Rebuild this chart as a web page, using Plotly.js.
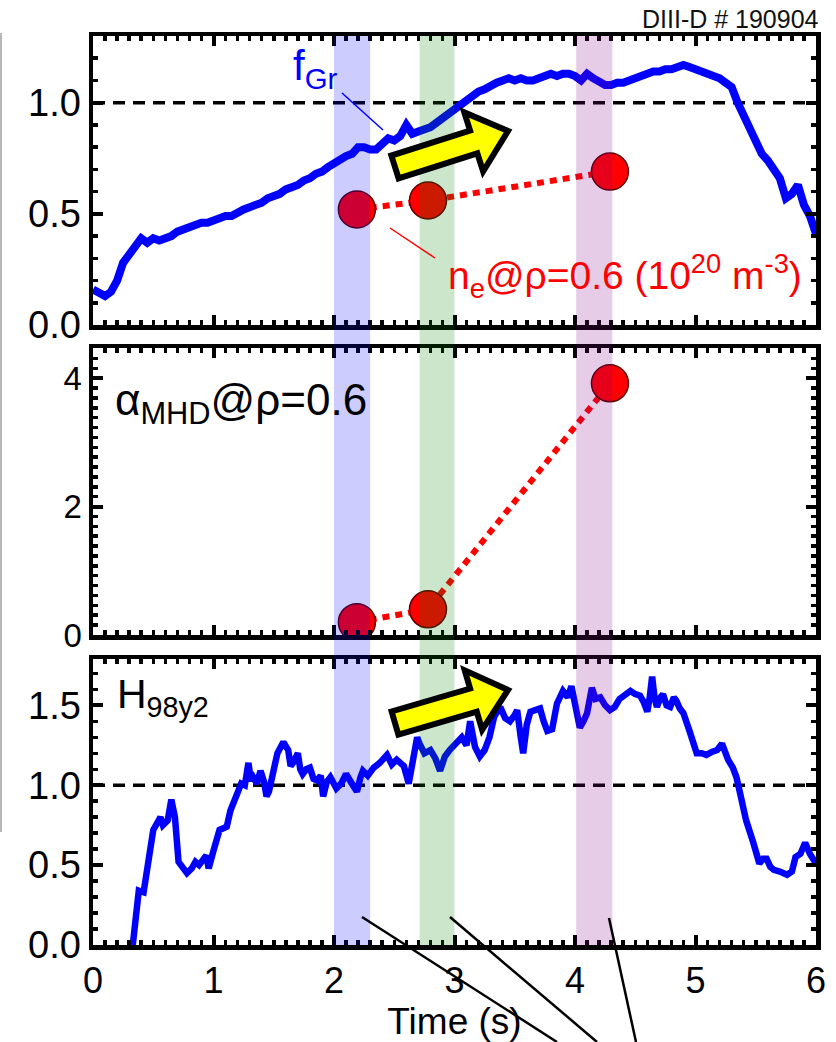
<!DOCTYPE html>
<html>
<head>
<meta charset="utf-8">
<script src="https://cdn.plot.ly/plotly-3.0.1.min.js"></script>
<style>html,body{margin:0;padding:0;background:#fff;}#chart{width:836px;height:1042px;}</style>
</head>
<body>
<div id="chart"></div>
<script>
// ---------- DATA ----------
const fgrTime = [0.00,0.05,0.10,0.15,0.20,0.25,0.30,0.35,0.40,0.45,
  0.50,0.55,0.60,0.65,0.70,0.75,0.80,0.85,0.90,0.95,
  1.00,1.05,1.10,1.15,1.20,1.25,1.30,1.35,1.40,1.45,
  1.50,1.55,1.60,1.65,1.70,1.75,1.80,1.85,1.90,1.95,
  2.00,2.05,2.10,2.15,2.20,2.25,2.30,2.35,2.40,2.45,
  2.50,2.55,2.60,2.65,2.70,2.75,2.80,2.85,2.90,2.95,
  3.00,3.05,3.10,3.15,3.20,3.25,3.30,3.35,3.40,3.45,
  3.50,3.55,3.60,3.65,3.70,3.75,3.80,3.85,3.90,3.95,
  4.00,4.05,4.10,4.15,4.20,4.25,4.30,4.35,4.40,4.45,
  4.50,4.55,4.60,4.65,4.70,4.75,4.80,4.85,4.90,4.95,
  5.00,5.05,5.10,5.15,5.20,5.25,5.30,5.35,5.40,5.45,
  5.50,5.55,5.60,5.65,5.70,5.75,5.80,5.85,5.90,5.95,6.00];
const fgrValue = [0.16,0.14,0.13,0.15,0.20,0.28,0.32,0.35,0.39,0.37,
  0.39,0.38,0.39,0.40,0.42,0.43,0.44,0.45,0.46,0.46,
  0.47,0.48,0.49,0.49,0.51,0.52,0.53,0.54,0.55,0.57,
  0.58,0.59,0.61,0.62,0.63,0.65,0.66,0.68,0.69,0.71,
  0.73,0.74,0.76,0.77,0.80,0.80,0.79,0.79,0.82,0.84,
  0.83,0.85,0.90,0.86,0.87,0.88,0.89,0.91,0.93,0.95,
  0.98,1.00,1.02,1.03,1.05,1.06,1.08,1.09,1.10,1.11,
  1.10,1.11,1.10,1.10,1.11,1.12,1.13,1.12,1.13,1.13,
  1.12,1.10,1.13,1.11,1.09,1.08,1.08,1.09,1.09,1.10,
  1.11,1.12,1.13,1.14,1.14,1.15,1.15,1.16,1.17,1.16,
  1.15,1.14,1.13,1.12,1.11,1.09,1.07,1.00,0.94,0.89,
  0.82,0.77,0.74,0.70,0.66,0.57,0.59,0.63,0.54,0.49,0.41];

const hTime = [0.33,0.36,0.38,0.42,0.46,0.50,0.53,0.56,0.58,0.62,
  0.65,0.68,0.71,0.75,0.78,0.82,0.85,0.88,0.91,0.94,
  0.96,0.98,1.00,1.05,1.08,1.11,1.14,1.19,1.23,1.26,
  1.29,1.31,1.33,1.36,1.39,1.42,1.44,1.46,1.48,1.53,
  1.58,1.62,1.64,1.66,1.70,1.72,1.74,1.77,1.80,1.83,
  1.86,1.89,1.91,1.94,1.97,2.00,2.02,2.06,2.10,2.14,
  2.19,2.22,2.24,2.28,2.33,2.38,2.44,2.48,2.52,2.55,
  2.58,2.62,2.66,2.69,2.71,2.75,2.80,2.84,2.88,2.92,
  2.96,3.00,3.03,3.06,3.10,3.13,3.17,3.21,3.25,3.29,
  3.33,3.38,3.42,3.46,3.50,3.52,3.55,3.57,3.60,3.63,
  3.67,3.71,3.74,3.77,3.81,3.85,3.90,3.94,3.97,4.00,
  4.04,4.07,4.10,4.14,4.17,4.21,4.25,4.29,4.33,4.37,
  4.41,4.46,4.50,4.54,4.57,4.60,4.62,4.64,4.66,4.68,
  4.71,4.73,4.76,4.79,4.82,4.84,4.87,4.90,4.95,5.01,
  5.05,5.09,5.14,5.18,5.22,5.25,5.27,5.31,5.34,5.37,
  5.42,5.48,5.53,5.56,5.59,5.62,5.65,5.70,5.76,5.80,
  5.83,5.87,5.91,5.95,6.00];
const hValue = [0.00,0.24,0.34,0.33,0.55,0.72,0.76,0.80,0.75,0.78,
  0.91,0.80,0.52,0.47,0.45,0.48,0.52,0.50,0.54,0.56,
  0.48,0.55,0.59,0.72,0.73,0.74,0.84,0.93,1.01,1.00,
  1.14,1.03,1.05,1.01,1.09,1.02,0.93,0.96,1.03,1.20,
  1.27,1.22,1.12,1.14,1.20,1.10,1.07,1.10,1.11,1.04,
  1.03,1.06,0.93,1.02,1.05,1.00,0.98,1.01,1.07,1.02,
  0.96,1.05,1.09,1.06,1.11,1.14,1.19,1.13,1.16,1.14,
  1.12,1.01,1.15,1.30,1.26,1.20,1.22,1.17,1.09,1.18,
  1.22,1.25,1.27,1.30,1.25,1.40,1.24,1.18,1.22,1.30,
  1.43,1.49,1.42,1.40,1.44,1.47,1.30,1.20,1.38,1.46,
  1.47,1.48,1.40,1.34,1.35,1.51,1.59,1.55,1.62,1.52,
  1.36,1.40,1.45,1.61,1.54,1.55,1.50,1.47,1.49,1.54,
  1.56,1.59,1.57,1.56,1.52,1.46,1.55,1.68,1.55,1.49,
  1.55,1.57,1.50,1.49,1.55,1.53,1.48,1.45,1.34,1.20,
  1.20,1.19,1.21,1.22,1.26,1.20,1.16,1.11,1.05,0.95,
  0.78,0.64,0.51,0.54,0.54,0.49,0.47,0.46,0.44,0.46,
  0.55,0.57,0.64,0.57,0.51];

const pointTime = [2.19, 2.78, 4.29];
const neValue = [0.52, 0.56, 0.69];
const alphaValue = [0.20, 0.40, 3.92];

const bandStart = [2.0, 2.71, 4.01];
const bandEnd = [2.3, 3.0, 4.31];
const bandColor = ['rgba(0,0,255,0.2)', 'rgba(0,128,0,0.2)', 'rgba(128,0,128,0.2)'];

const xTickVals = [0,1,2,3,4,5,6];
const fgrTicks = [0.0, 0.5, 1.0];
const alphaTicks = [0, 2, 4];
const hTicks = [0.0, 0.5, 1.0, 1.5];

// ---------- helpers (pixel -> paper for decorations) ----------
const L = 93, R = 816, T = 36, B = 945;
const PX = p => (p - L) / (R - L);
const PY = p => (B - p) / (B - T);
const FONT = 'Liberation Sans, Arial, sans-serif';

function arrowPath(tx, ty, hx, hy, sh, hh, hl) {
  const dx = hx - tx, dy = hy - ty, len = Math.hypot(dx, dy);
  const ux = dx / len, uy = dy / len, nx = -uy, ny = ux;
  const nk = len - hl;
  const pts = [
    [tx + nx * sh, ty + ny * sh],
    [tx + ux * nk + nx * sh, ty + uy * nk + ny * sh],
    [tx + ux * nk + nx * hh, ty + uy * nk + ny * hh],
    [hx, hy],
    [tx + ux * nk - nx * hh, ty + uy * nk - ny * hh],
    [tx + ux * nk - nx * sh, ty + uy * nk - ny * sh],
    [tx - nx * sh, ty - ny * sh]
  ];
  return 'M ' + pts.map(p => PX(p[0]).toFixed(5) + ',' + PY(p[1]).toFixed(5)).join(' L ') + ' Z';
}

// ---------- traces ----------
const blue = '#0000ff';
const traces = [
  {x: fgrTime, y: fgrValue, xaxis: 'x3', yaxis: 'y3', mode: 'lines',
   line: {color: blue, width: 8}, hoverinfo: 'skip'},
  {x: pointTime, y: neValue, xaxis: 'x3', yaxis: 'y3', mode: 'lines+markers',
   line: {color: '#ff0000', width: 6, dash: '7px,6px'},
   marker: {size: 37, color: '#ff0000', line: {color: '#5a0000', width: 1.5}}},
  {x: pointTime, y: alphaValue, xaxis: 'x2', yaxis: 'y2', mode: 'lines+markers',
   line: {color: '#ff0000', width: 6, dash: '7px,6px'},
   marker: {size: 37, color: '#ff0000', line: {color: '#5a0000', width: 1.5}}},
  {x: hTime, y: hValue, xaxis: 'x', yaxis: 'y', mode: 'lines',
   line: {color: blue, width: 6.5}, hoverinfo: 'skip'}
];

// ---------- axes ----------
function xAx(anchor, labels) {
  const a = {
    anchor: anchor, range: [0, 6], tickvals: xTickVals, ticktext: xTickVals.map(String),
    showticklabels: labels, ticks: 'inside', ticklen: 10, tickwidth: 4, tickcolor: '#000',
    showline: true, linecolor: '#000', linewidth: 4.5, mirror: 'allticks',
    showgrid: false, zeroline: false,
    minor: {dtick: 0.1, ticks: 'inside', ticklen: 5, tickwidth: 3.5, tickcolor: '#000', showgrid: false},
    tickfont: {family: FONT, size: 36, color: '#000'}
  };
  if (anchor !== 'y') a.matches = 'x';
  return a;
}
function yAx(domain, range, ticks, fmt, minorStep, fsize) {
  return {
    domain: domain, range: range, tickvals: ticks, ticktext: ticks.map(v => v.toFixed(fmt)),
    ticks: 'inside', ticklen: 10, tickwidth: 4, tickcolor: '#000',
    showline: true, linecolor: '#000', linewidth: 4.5, mirror: 'allticks',
    showgrid: false, zeroline: false,
    minor: {dtick: minorStep, tick0: 0, ticks: 'inside', ticklen: 5, tickwidth: 3.5, tickcolor: '#000', showgrid: false},
    tickfont: {family: FONT, size: fsize, color: '#000'}
  };
}

const xa = xAx('y', true);
xa.title = {text: 'Time (s)', font: {family: FONT, size: 37, color: '#000'}, standoff: 12};

const shapes = [];
// shaded time windows
for (let i = 0; i < bandStart.length; i++) {
  shapes.push({type: 'rect', xref: 'x', yref: 'paper', x0: bandStart[i], x1: bandEnd[i], y0: 0, y1: 1,
    fillcolor: bandColor[i], line: {width: 0}, layer: 'above'});
}
// reference lines at 1.0
shapes.push({type: 'line', xref: 'paper', yref: 'y3', x0: 0, x1: 1, y0: 1, y1: 1,
  line: {color: '#000', width: 3.5, dash: '12px,8px'}, layer: 'below'});
shapes.push({type: 'line', xref: 'paper', yref: 'y', x0: 0, x1: 1, y0: 1, y1: 1,
  line: {color: '#000', width: 3.5, dash: '12px,8px'}, layer: 'below'});
// label leader lines
shapes.push({type: 'line', xref: 'paper', yref: 'paper', x0: PX(342), y0: PY(93), x1: PX(383), y1: PY(130),
  line: {color: blue, width: 1.5}});
shapes.push({type: 'line', xref: 'paper', yref: 'paper', x0: PX(390), y0: PY(228), x1: PX(435), y1: PY(258),
  line: {color: '#ff0000', width: 1.5}});
// yellow arrows
shapes.push({type: 'path', xref: 'paper', yref: 'paper', path: arrowPath(395, 167, 508, 131, 12, 31, 36),
  fillcolor: '#ffff00', line: {color: '#000', width: 6}});
shapes.push({type: 'path', xref: 'paper', yref: 'paper', path: arrowPath(395, 723, 508, 690, 12, 31, 36),
  fillcolor: '#ffff00', line: {color: '#000', width: 6}});
// pointer lines below
[[362, 917, 557, 1042], [450, 917, 597, 1042], [609, 918, 636, 1042]].forEach(s => {
  shapes.push({type: 'line', xref: 'paper', yref: 'paper', x0: PX(s[0]), y0: PY(s[1]), x1: PX(s[2]), y1: PY(s[3]),
    line: {color: '#000', width: 2.5}});
});
// cropped neighbour edge at far left
shapes.push({type: 'line', xref: 'paper', yref: 'paper', x0: PX(1), y0: PY(33), x1: PX(1), y1: PY(832),
  line: {color: '#a0a0a0', width: 1.5}});

const annotations = [
  {xref: 'paper', yref: 'paper', x: PX(821), y: PY(19), xanchor: 'right', yanchor: 'middle', showarrow: false,
   text: 'DIII-D # 190904', font: {family: FONT, size: 25, color: '#111'}},
  {xref: 'paper', yref: 'paper', x: PX(291), y: PY(68), xanchor: 'left', yanchor: 'middle', showarrow: false,
   text: 'f<sub>Gr</sub>', font: {family: FONT, size: 42, color: blue}},
  {xref: 'paper', yref: 'paper', x: PX(446), y: PY(276), xanchor: 'left', yanchor: 'middle', showarrow: false,
   text: 'n<sub>e</sub>@ρ=0.6 (10<sup>20</sup> m<sup>-3</sup>)', font: {family: FONT, size: 39, color: '#ff0000'}},
  {xref: 'paper', yref: 'paper', x: PX(113), y: PY(403), xanchor: 'left', yanchor: 'middle', showarrow: false,
   text: 'α<sub>MHD</sub>@ρ=0.6', font: {family: FONT, size: 44, color: '#000'}},
  {xref: 'paper', yref: 'paper', x: PX(115), y: PY(697), xanchor: 'left', yanchor: 'middle', showarrow: false,
   text: 'H<sub>98y2</sub>', font: {family: FONT, size: 41, color: '#000'}}
];

const layout = {
  width: 836, height: 1042,
  margin: {l: L, r: 836 - R, t: T, b: 1042 - B},
  paper_bgcolor: '#fff', plot_bgcolor: '#fff',
  showlegend: false,
  xaxis: xa,
  xaxis2: xAx('y2', false),
  xaxis3: xAx('y3', false),
  yaxis: yAx([0, PY(659)], [0, 1.79], hTicks, 1, 0.1, 38),
  yaxis2: yAx([PY(635), PY(348)], [0, 4.47], alphaTicks, 0, 2 / 13, 33),
  yaxis3: yAx([PY(325), 1], [0, 1.3], fgrTicks, 1, 0.1, 38),
  shapes: shapes,
  annotations: annotations
};

Plotly.newPlot('chart', traces, layout, {displayModeBar: false, staticPlot: true});
</script>
</body>
</html>
